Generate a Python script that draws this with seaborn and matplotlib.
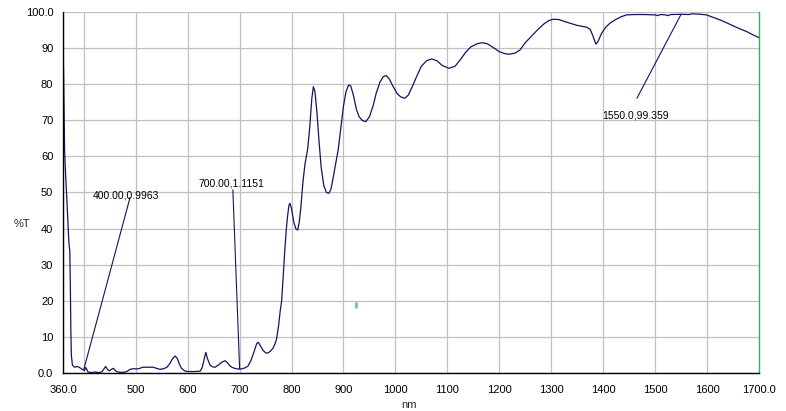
import numpy as np
import pandas as pd
import seaborn as sns
import matplotlib
matplotlib.use("Agg")
import matplotlib.pyplot as plt

# transmission spectrum
wavelength = [360, 361, 362, 363, 364, 366, 368, 370, 371, 372, 373, 374, 375, 376, 378,
              382, 388, 393, 398, 401, 404, 408, 415, 422, 428, 435, 442, 446, 449, 453,
              457, 461, 465, 470, 478, 484, 489, 495, 502, 508, 514, 524, 533, 540, 547,
              554, 560, 566, 571, 576, 580, 584, 588, 594, 600, 612, 624, 628, 632, 635,
              638, 643, 648, 653, 660, 666, 672, 677, 681, 685, 690, 697, 703, 710, 716,
              722, 728, 733, 736, 740, 745, 750, 754, 759, 764, 768, 771, 775, 778, 781,
              784, 787, 790, 792, 795, 797, 800, 804, 808, 812, 815, 818, 822, 826, 831,
              835, 839, 842, 845, 849, 853, 857, 862, 867, 872, 876, 880, 885, 890, 895,
              900, 905, 910, 914, 919, 925, 930, 936, 943, 950, 957, 963, 970, 976, 982,
              988, 995, 1003, 1010, 1018, 1025, 1033, 1042, 1050, 1060, 1070, 1080, 1090,
              1103, 1115, 1125, 1135, 1145, 1157, 1167, 1177, 1190, 1200, 1210, 1219, 1230,
              1240, 1250, 1260, 1272, 1285, 1295, 1304, 1315, 1325, 1336, 1350, 1368, 1375,
              1380, 1386, 1390, 1397, 1405, 1413, 1425, 1435, 1445, 1460, 1480, 1500, 1505,
              1510, 1520, 1525, 1530, 1550, 1565, 1572, 1585, 1599, 1610, 1625, 1638, 1650,
              1662, 1676, 1688, 1700]
transmission = [90, 84, 74, 62, 58, 52, 46, 40, 37, 35, 34, 25, 12, 5, 2.2,
                1.6, 1.8, 1.4, 0.9, 0.7, 1.5, 0.3, 0.1, 0.3, 0.1, 0.3, 1.8, 0.9, 0.6, 1.0,
                1.3, 0.6, 0.3, 0.2, 0.2, 0.5, 1.0, 1.2, 1.1, 1.3, 1.6, 1.6, 1.6, 1.3, 1.0,
                1.2, 1.6, 2.7, 4.0, 4.7, 4.0, 2.5, 1.3, 0.6, 0.4, 0.4, 0.5, 1.5, 4.0, 5.7,
                4.0, 2.2, 1.7, 1.6, 2.3, 3.0, 3.4, 2.8, 2.0, 1.6, 1.3, 1.1, 1.1, 1.4, 1.9,
                3.5, 6.0, 8.2, 8.5, 7.5, 6.3, 5.6, 5.5, 6.0, 6.8, 8.0, 9.3, 13, 17, 20,
                27, 34, 40, 43, 46.5, 47, 45.5, 42, 40, 39.6, 42, 46, 53, 58, 62,
                68, 76, 79.3, 78, 72, 64, 57, 52, 50, 49.8, 51, 54, 58, 62, 68,
                74, 78, 79.8, 79.5, 77, 73, 71, 70, 69.6, 71, 74, 77.5, 80.5, 82, 82.4,
                81.5, 79.5, 77.5, 76.5, 76.1, 77, 79.5, 82.5, 85, 86.5, 87, 86.5, 85.2,
                84.4, 85, 86.8, 88.8, 90.3, 91.2, 91.5, 91.2, 90, 89, 88.5, 88.3, 88.6,
                89.5, 91.5, 93, 94.8, 96.6, 97.6, 98.0, 97.9, 97.4, 96.9, 96.3, 95.8, 95.2,
                93.5, 91.1, 91.8, 94.1, 95.8, 96.9, 98.0, 98.7, 99.2, 99.3, 99.3, 99.2, 99.0,
                99.3, 99.2, 99.0, 99.3, 99.36, 99.3, 99.5, 99.4, 99.2, 98.6, 97.8, 97.0, 96.2,
                95.4, 94.6, 93.7, 92.9]

# peak-pick labels
mark_x = [400.0, 700.0, 1550.0]
mark_y = [0.9963, 1.1151, 99.359]
mark_labels = ["400.00,0.9963", "700.00,1.1151", "1550.0,99.359"]
label_pos = [(418, 49.2), (620, 52.6), (1398, 71.4)]
leader_end = [(489, 48.6), (687, 50.7), (1465, 76.1)]

x_ticks = [360, 400, 500, 600, 700, 800, 900, 1000, 1100, 1200, 1300, 1400, 1500, 1600, 1700]
x_ticklabels = ["360.0", ""] + [str(t) for t in x_ticks[2:-1]] + ["1700.0"]
y_ticks = [0, 10, 20, 30, 40, 50, 60, 70, 80, 90, 100]
y_ticklabels = ["0.0"] + [str(t) for t in y_ticks[1:-1]] + ["100.0"]

df = pd.DataFrame({"nm": wavelength, "T": transmission})

sns.set_style("white")
plt.rcParams["font.family"] = ["Liberation Sans", "DejaVu Sans"]

navy = "#14145e"
fig = plt.figure(figsize=(7.86, 4.11), dpi=100)
ax = fig.add_axes([0.0802, 0.0925, 0.8854, 0.8783])

sns.lineplot(data=df, x="nm", y="T", ax=ax, color=navy, linewidth=0.9,
             sort=False, estimator=None)

for (mx, my), (ex, ey), lab, (tx, ty) in zip(zip(mark_x, mark_y), leader_end, mark_labels, label_pos):
    ax.plot([mx, ex], [my, ey], color=navy, linewidth=0.8)
    ax.text(tx, ty, lab, fontsize=7.5, va="center", ha="left", color="black")

# stray green tick in the plot area
ax.plot([924], [18.8], marker="|", markersize=5, color="#66cc88", markeredgewidth=2)

ax.set_xlim(360, 1700)
ax.set_ylim(0, 100)
ax.set_xticks(x_ticks)
ax.set_xticklabels(x_ticklabels)
ax.set_yticks(y_ticks)
ax.set_yticklabels(y_ticklabels)
ax.tick_params(axis="both", direction="out", length=4, width=0.8, labelsize=8,
               colors="black", pad=3)
ax.tick_params(axis="x", pad=5)
ax.grid(True, color="#c0c0c0", linewidth=0.9)
ax.set_axisbelow(True)

for side in ["left", "bottom"]:
    ax.spines[side].set_color("black")
    ax.spines[side].set_linewidth(1.0)
ax.spines["top"].set_visible(False)
ax.spines["right"].set_color("#33b060")
ax.spines["right"].set_linewidth(1.0)

ax.set_xlabel("nm", fontsize=8)
ax.set_ylabel("%T", fontsize=8, rotation=0)
ax.xaxis.set_label_coords(0.497, -0.074)
ax.yaxis.set_label_coords(-0.059, 0.40)

fig.savefig("out.png", dpi=100)
